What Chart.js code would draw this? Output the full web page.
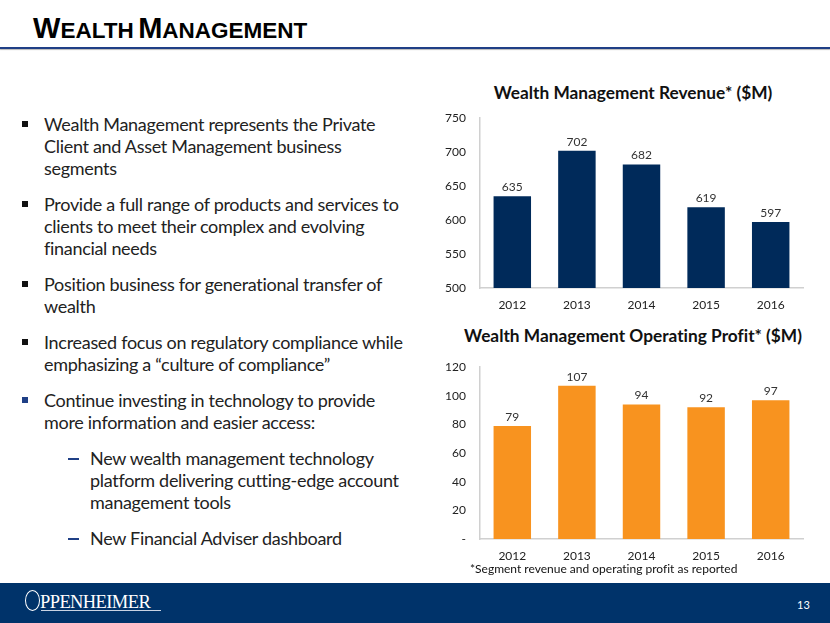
<!DOCTYPE html>
<html>
<head>
<meta charset="utf-8">
<script src="https://cdn.jsdelivr.net/npm/chart.js@4.4.0/dist/chart.umd.min.js"></script>
<style>
  html, body { margin: 0; padding: 0; background: #fff; }
  #slide { position: relative; width: 830px; height: 623px; overflow: hidden; font-family: Lato, "Open Sans", sans-serif; font-variant-ligatures: none; font-feature-settings: "liga" 0; }
  #title { position: absolute; left: 33px; top: 12px; font-family: "Liberation Sans", Arial, sans-serif; font-weight: bold; color: #000; white-space: nowrap; }
  #title .big { font-size: 29px; }
  #title .sm { font-size: 22.5px; }
  #rule { position: absolute; left: 0; top: 47px; width: 830px; height: 2px; background: #1f3f86; box-shadow: 0 1px 1px #b8b8b8; }
  #bullets { position: absolute; left: 22px; top: 113px; width: 395px; margin: 0; padding: 0; list-style: none; font-size: 18px; line-height: 22px; color: #222; letter-spacing: -0.3px; }
  #bullets li { position: relative; padding-left: 22px; margin-bottom: 14px; }
  #bullets li::before { content: ""; position: absolute; left: 0; top: 8px; width: 6px; height: 6px; background: #111; }
  #bullets li.blue::before { background: #1f3f86; }
  #bullets li.sub { padding-left: 68px; }
  #bullets li.sub::before { left: 46px; top: 11px; width: 11px; height: 2px; background: #1f3f86; }
  .ctitle { position: absolute; left: 423px; width: 420px; text-align: center; font-weight: bold; font-size: 17.3px; color: #111; white-space: nowrap; }
  .cwrap { position: absolute; left: 430px; width: 380px; }
  #note { position: absolute; left: 470px; top: 561px; font-size: 12px; color: #111; }
  #footer { position: absolute; left: 0; top: 583px; width: 830px; height: 40px; background: #00336a; }
  #logo { position: absolute; left: 25px; top: 590px; color: #fff; font-family: "Liberation Serif", "DejaVu Serif", serif; white-space: nowrap; }
  #logo .o { display: inline-block; width: 13px; height: 19px; border: 1.5px solid #fff; border-radius: 50%; vertical-align: -3px; margin-right: 0px; }
  #logo .rest { font-size: 18.5px; letter-spacing: -0.6px; }
  #logo .ul { position: absolute; left: 16px; top: 20px; width: 120px; height: 1px; background: #c9d3e3; }
  #page { position: absolute; left: 797px; top: 598px; color: #fff; font-size: 11px; }
</style>
</head>
<body>
<div id="slide">
  <div id="title"><span class="big">W</span><span class="sm">EALTH</span> <span class="big">M</span><span class="sm">ANAGEMENT</span></div>
  <div id="rule"></div>

  <ul id="bullets">
    <li>Wealth Management represents the Private Client and Asset Management business segments</li>
    <li>Provide a full range of products and services to clients to meet their complex and evolving financial needs</li>
    <li>Position business for generational transfer of wealth</li>
    <li>Increased focus on regulatory compliance while emphasizing a “culture of compliance”</li>
    <li class="blue">Continue investing in technology to provide more information and easier access:</li>
    <li class="sub">New wealth management technology platform delivering cutting-edge account management tools</li>
    <li class="sub">New Financial Adviser dashboard</li>
  </ul>

  <div class="ctitle" style="top:82px;">Wealth Management Revenue* ($M)</div>
  <div class="cwrap" style="top:97px; height:223px;"><canvas id="revChart"></canvas></div>

  <div class="ctitle" style="top:325px;">Wealth Management Operating Profit* ($M)</div>
  <div class="cwrap" style="top:346px; height:225px;"><canvas id="profitChart"></canvas></div>

  <div id="note">*Segment revenue and operating profit as reported</div>

  <div id="footer"></div>
  <div id="logo"><span class="o"></span><span class="rest">PPENHEIMER</span><div class="ul"></div></div>
  <div id="page">13</div>
</div>

<script>
// --- Données ---
const years = ['2012', '2013', '2014', '2015', '2016'];
const revenue = [635, 702, 682, 619, 597];
const profit = [79, 107, 94, 92, 97];
const revenueTicks = ['500', '550', '600', '650', '700', '750'];
const profitTicks = ['-', '20', '40', '60', '80', '100', '120'];

// --- Étiquettes au-dessus des barres ---
const barLabels = {
    id: 'barLabels',
    afterDatasetsDraw(chart) {
        const ctx = chart.ctx;
        const meta = chart.getDatasetMeta(0);
        ctx.save();
        ctx.font = '12px Lato, "Open Sans", sans-serif';
        ctx.fillStyle = '#333';
        ctx.textAlign = 'center';
        ctx.textBaseline = 'bottom';
        meta.data.forEach((bar, i) => {
            ctx.fillText(chart.data.datasets[0].data[i], bar.x, bar.y - 3);
        });
        ctx.restore();
    }
};

function makeChart(id, values, color, min, max, step, tickLabels) {
    return new Chart(document.getElementById(id), {
        type: 'bar',
        data: {
            labels: years,
            datasets: [{
                data: values,
                backgroundColor: color,
                categoryPercentage: 1,
                barPercentage: 0.58
            }]
        },
        options: {
            responsive: true,
            maintainAspectRatio: false,
            animation: false,
            layout: { padding: { top: 7, right: 7, left: 0, bottom: 0 } },
            plugins: { legend: { display: false }, tooltip: { enabled: false } },
            scales: {
                x: {
                    grid: { display: false, drawTicks: false },
                    border: { color: '#d0d0d0', width: 1.5 },
                    ticks: { color: '#222', padding: 10, font: { size: 12, family: 'Lato, "Open Sans", sans-serif' } },
                    afterFit: s => { s.height = 32; }
                },
                y: {
                    min: min, max: max,
                    grid: { display: false, drawTicks: false },
                    border: { color: '#d0d0d0', width: 1.5 },
                    ticks: {
                        stepSize: step,
                        color: '#222',
                        padding: 14,
                        font: { size: 12, family: 'Lato, "Open Sans", sans-serif' },
                        callback: v => tickLabels[Math.round((v - min) / step)]
                    },
                    afterFit: s => { s.width = 50; }
                }
            }
        },
        plugins: [barLabels]
    });
}

document.addEventListener("DOMContentLoaded", () => {
    makeChart('revChart', revenue, '#002a5a', 500, 750, 50, revenueTicks);
    makeChart('profitChart', profit, '#f8931f', 0, 120, 20, profitTicks);
});
</script>
</body>
</html>
